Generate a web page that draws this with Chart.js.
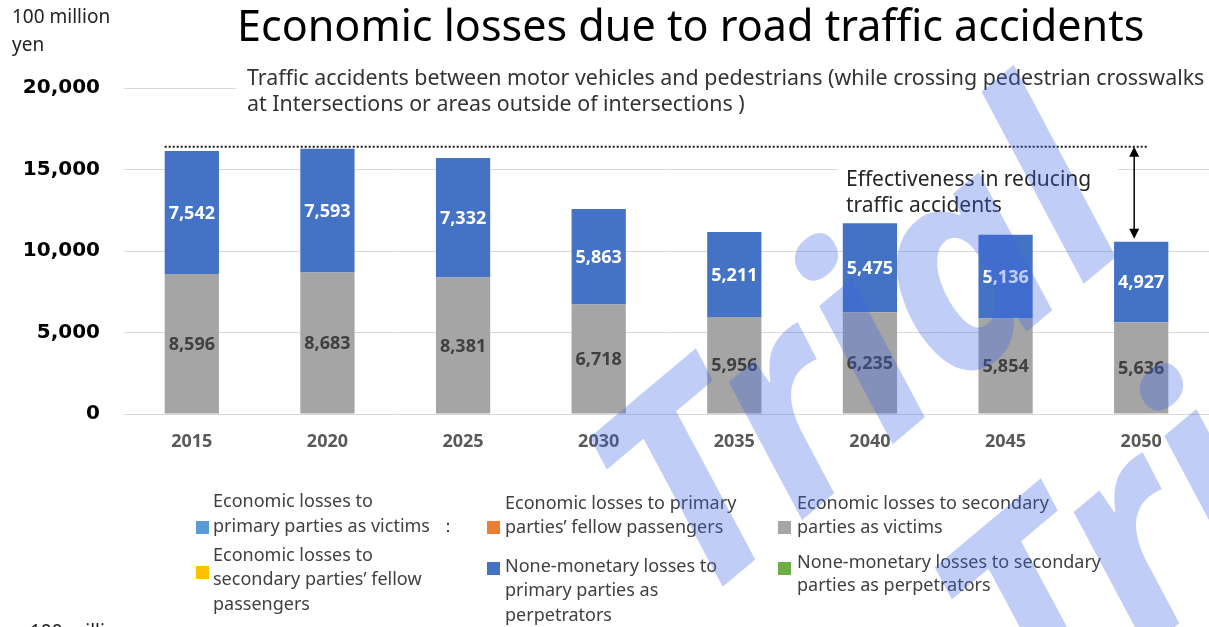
<!DOCTYPE html>
<html>
<head>
<meta charset="utf-8">
<script src="https://cdn.jsdelivr.net/npm/chart.js@4.4.1/dist/chart.umd.min.js"></script>
<style>
  html, body { margin: 0; padding: 0; background: #fff; }
  #wrap { width: 1209px; height: 627px; position: relative; }
</style>
</head>
<body>
<div id="wrap"><canvas id="chart" width="1209" height="627"></canvas></div>
<script>
// values in 100 million yen
var years = ["2015", "2020", "2025", "2030", "2035", "2040", "2045", "2050"];
var secondaryVictims = [8596, 8683, 8381, 6718, 5956, 6235, 5854, 5636];
var primaryNonMonetary = [7542, 7593, 7332, 5863, 5211, 5475, 5136, 4927];
var yTicks = [0, 5000, 10000, 15000, 20000];

var titleText = "Economic losses due to road traffic accidents";
var subtitleLines = [
  "Traffic accidents between motor vehicles and pedestrians (while crossing pedestrian crosswalks",
  "at Intersections or areas outside of intersections )"
];
var unitLines = ["100 million", "yen"];
var noteLines = ["Effectiveness in reducing", "traffic accidents"];

var legendLabels = [
  ["Economic losses to", "primary parties as victims  \uFF1A"],
  ["Economic losses to primary", "parties\u2019 fellow passengers"],
  ["Economic losses to secondary", "parties as victims"],
  ["Economic losses to", "secondary parties\u2019 fellow", "passengers"],
  ["None-monetary losses to", "primary parties as", "perpetrators"],
  ["None-monetary losses to secondary", "parties as perpetrators"]
];
var legendColors = ["#5B9BD5", "#ED7D31", "#A5A5A5", "#FFC000", "#4472C4", "#70AD47"];

var fmt = function (v) { return Number(v).toLocaleString("en-US"); };

function fitFont(ctx, text, width, weight, family) {
  ctx.font = weight + " 100px " + family;
  var w = ctx.measureText(text).width;
  return weight + " " + (100 * width / w).toFixed(1) + "px " + family;
}

var decorations = {
  id: "decorations",
  afterDatasetsDraw: function (chart) {
    var ctx = chart.ctx;

    // value labels inside the stacked segments
    ctx.save();
    ctx.textAlign = "center";
    ctx.textBaseline = "middle";
    ctx.font = "bold 18px 'Noto Sans'";
    chart.data.datasets.forEach(function (ds, di) {
      var meta = chart.getDatasetMeta(di);
      meta.data.forEach(function (bar, i) {
        var p = bar.getProps(["x", "y", "base"], true);
        ctx.fillStyle = di === 0 ? "#404040" : "#ffffff";
        ctx.fillText(fmt(ds.data[i]), p.x, (p.y + p.base) / 2 + 1);
      });
    });
    ctx.restore();
  },
  afterDraw: function (chart) {
    var ctx = chart.ctx;
    var y = chart.scales.y;
    ctx.save();

    // title
    ctx.fillStyle = "#000";
    ctx.textBaseline = "middle";
    ctx.textAlign = "left";
    ctx.font = fitFont(ctx, titleText, 908, "normal", "'Noto Sans'");
    ctx.fillText(titleText, 237, 29);

    // unit
    ctx.fillStyle = "#222";
    ctx.font = "normal 19px 'Noto Sans'";
    ctx.fillText(unitLines[0], 12, 18);
    ctx.fillText(unitLines[1], 12, 46);
    ctx.fillText(unitLines[0], 30, 633);

    // subtitle on a white box
    ctx.fillStyle = "#fff";
    ctx.fillRect(236, 64, 973, 54);
    ctx.fillStyle = "#333";
    ctx.font = fitFont(ctx, subtitleLines[0], 958, "normal", "'Noto Sans'");
    ctx.fillText(subtitleLines[0], 247, 79);
    ctx.fillText(subtitleLines[1], 247, 105);

    // dotted reference line at the highest total
    var totals = years.map(function (_, i) { return secondaryVictims[i] + primaryNonMonetary[i]; });
    var maxTotal = Math.max.apply(null, totals);
    var last = years.length - 1;
    var barMeta = chart.getDatasetMeta(1).data;
    var firstBar = barMeta[0].getProps(["x", "width"], true);
    var lastBar = barMeta[last].getProps(["x", "y"], true);
    var yTop = y.getPixelForValue(maxTotal) - 2;
    var ax = lastBar.x - 7;
    ctx.strokeStyle = "#1a1a1a";
    ctx.lineWidth = 2;
    ctx.setLineDash([2, 2]);
    ctx.beginPath();
    ctx.moveTo(firstBar.x - firstBar.width / 2, yTop);
    ctx.lineTo(ax + 14, yTop);
    ctx.stroke();
    ctx.setLineDash([]);

    // double arrow
    var yBot = lastBar.y - 3;
    ctx.lineWidth = 1.5;
    ctx.strokeStyle = "#000";
    ctx.fillStyle = "#000";
    ctx.beginPath();
    ctx.moveTo(ax, yTop + 6);
    ctx.lineTo(ax, yBot - 6);
    ctx.stroke();
    ctx.beginPath();
    ctx.moveTo(ax, yTop); ctx.lineTo(ax - 5, yTop + 10); ctx.lineTo(ax + 5, yTop + 10); ctx.closePath();
    ctx.fill();
    ctx.beginPath();
    ctx.moveTo(ax, yBot); ctx.lineTo(ax - 5, yBot - 10); ctx.lineTo(ax + 5, yBot - 10); ctx.closePath();
    ctx.fill();

    // note
    ctx.fillStyle = "#fff";
    ctx.fillRect(838, 164, 280, 56);
    ctx.fillStyle = "#262626";
    ctx.font = "normal 21px 'Noto Sans'";
    ctx.fillText(noteLines[0], 846, 180);
    ctx.fillText(noteLines[1], 846, 206);

    // legend
    var cols = [196, 487, 778];
    var textX = [213, 505, 797];
    var boxY = [527, 527, 527, 572, 568, 568];
    var lineY = [[502, 527], [504, 528], [504, 528], [556, 580, 605], [567, 591, 616], [563, 586]];
    ctx.font = "normal 18px 'Noto Sans'";
    legendLabels.forEach(function (lines, i) {
      var c = i % 3;
      ctx.fillStyle = legendColors[i];
      ctx.fillRect(cols[c], boxY[i] - 6, 13, 13);
      ctx.fillStyle = "#404040";
      lines.forEach(function (t, k) { ctx.fillText(t, textX[c], lineY[i][k]); });
    });

    // watermark
    ctx.globalAlpha = 0.32;
    ctx.fillStyle = "#3C64E6";
    ctx.textAlign = "left";
    ctx.textBaseline = "alphabetic";
    ctx.font = "italic bold 280px 'Noto Sans'";
    [[695, 610], [1040, 740]].forEach(function (o) {
      ctx.save();
      ctx.translate(o[0], o[1]);
      ctx.rotate(-40 * Math.PI / 180);
      ctx.fillText("Trial", 0, 0);
      ctx.restore();
    });
    ctx.restore();
  }
};

new Chart(document.getElementById("chart"), {
  type: "bar",
  data: {
    labels: years,
    datasets: [
      { label: legendLabels[2].join(" "), data: secondaryVictims, backgroundColor: "#A5A5A5" },
      { label: legendLabels[4].join(" "), data: primaryNonMonetary, backgroundColor: "#4472C4" }
    ]
  },
  options: {
    responsive: false,
    animation: false,
    events: [],
    layout: { padding: { top: 88, right: 0, bottom: 0, left: 0 } },
    categoryPercentage: 1,
    barPercentage: 0.4,
    plugins: { legend: { display: false }, tooltip: { enabled: false } },
    scales: {
      x: {
        stacked: true,
        grid: { display: false, drawTicks: false },
        border: { display: true, color: "#D9D9D9" },
        ticks: { color: "#595959", padding: 17, font: { family: "'Noto Sans'", size: 18, weight: "bold" } },
        afterFit: function (s) { s.height = 627 - 414; }
      },
      y: {
        stacked: true,
        min: 0,
        max: 20000,
        afterBuildTicks: function (s) { s.ticks = yTicks.map(function (v) { return { value: v }; }); },
        grid: { color: "#D9D9D9", drawTicks: false },
        border: { display: false },
        ticks: {
          color: "#000",
          padding: 24,
          font: { family: "'DejaVu Sans'", size: 20, weight: "bold" },
          callback: function (v) { return fmt(v); }
        },
        afterFit: function (s) { s.width = 124; }
      }
    }
  },
  plugins: [decorations]
});
</script>
</body>
</html>
